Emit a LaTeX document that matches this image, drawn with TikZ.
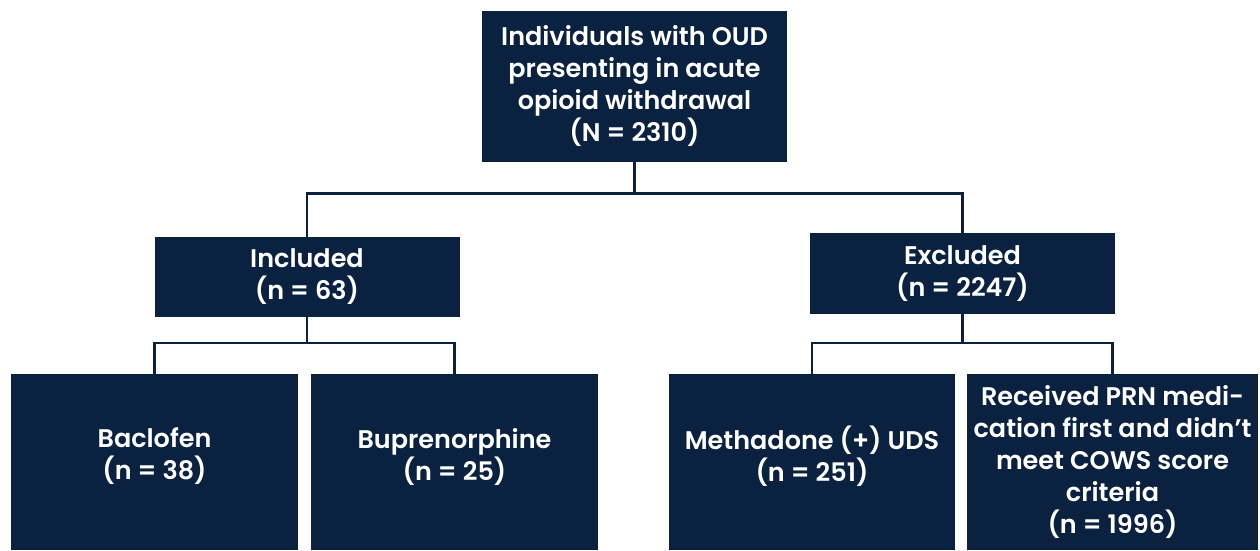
\documentclass[tikz,border=0pt]{standalone}
\usepackage{fontspec}
\setmainfont{Poppins}[UprightFont=* SemiBold]
\definecolor{navy}{RGB}{10,34,64}
\begin{document}
\begin{tikzpicture}[x=1pt,y=-1pt,
    box/.style={rectangle, fill=navy, text=white, align=center, inner sep=0pt,
      font=\fontsize{25.5}{32}\selectfont},
    link/.style={draw=navy, line width=2.5pt}]
  \useasboundingbox (0,0) rectangle (1260,550);
  \node[box, minimum width=305pt, minimum height=151pt] (top) at (634.5,86) {Individuals with OUD\\presenting in acute\\opioid withdrawal\\(N = 2310)};
  \node[box, minimum width=305pt, minimum height=80pt] (incl) at (307,277) {Included\\(n = 63)};
  \node[box, minimum width=305pt, minimum height=81pt] (excl) at (962.5,273.5) {Excluded\\(n = 2247)};
  \node[box, minimum width=287pt, minimum height=176pt] (bac) at (154.5,462) {Baclofen\\(n = 38)\\[-16pt]\mbox{}};
  \node[box, minimum width=287pt, minimum height=176pt] (bup) at (454.5,462) {Buprenorphine\\(n = 25)\\[-16pt]\mbox{}};
  \node[box, minimum width=286pt, minimum height=176pt] (meth) at (812,462) {Methadone (+) UDS\\(n = 251)\\[-16pt]\mbox{}};
  \node[box, minimum width=291pt, minimum height=176pt] (prn) at (1112.5,462) {Received PRN medi-\\cation first and didn’t\\meet COWS score\\criteria\\(n = 1996)};
  \draw[link] (top.south) -- ++(0,32) coordinate (topsplit);
  \draw[link] (incl.north) |- (topsplit) -| (excl.north);
  \draw[link] (incl.south) -- ++(0,26) coordinate (inclsplit);
  \draw[link] (bac.north) |- (inclsplit) -| (bup.north);
  \draw[link] (excl.south) -- ++(0,29) coordinate (exclsplit);
  \draw[link] (meth.north) |- (exclsplit) -| (prn.north);
\end{tikzpicture}
\end{document}
